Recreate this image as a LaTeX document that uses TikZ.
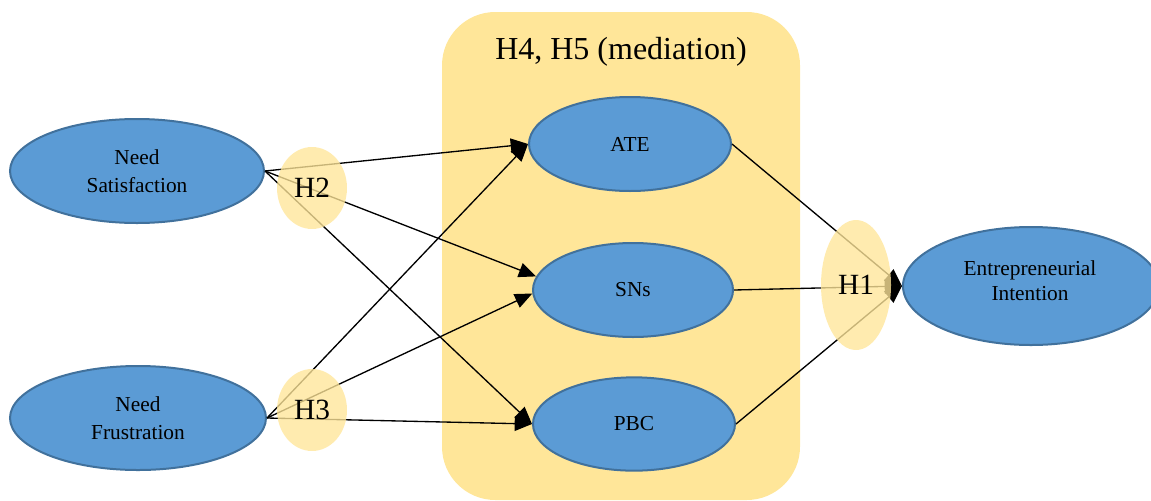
\documentclass[tikz,border=0pt]{standalone}
\usepackage{fontspec}
\setmainfont{Liberation Serif}
\usetikzlibrary{shapes.geometric,arrows.meta}
\definecolor{nodeblue}{HTML}{5B9BD5}
\definecolor{nodeborder}{HTML}{41719C}
\definecolor{paleyellow}{HTML}{FFE699}
\tikzset{
  construct/.style={ellipse, fill=nodeblue, draw=nodeborder, line width=1.5pt,
    inner sep=0pt, align=center, font=\fontsize{16}{21}\selectfont},
  hyp/.style={ellipse, fill=paleyellow, fill opacity=0.78, text opacity=1,
    inner sep=0pt, font=\fontsize{22}{26}\selectfont},
  link/.style={line width=1pt, -{Triangle[length=13pt,width=11pt]}},
}
\begin{document}
\begin{tikzpicture}[x=0.75pt,y=-0.75pt]
\useasboundingbox (0,0) rectangle (1151,500);
% mediation box
\fill[paleyellow, rounded corners=40pt] (442,12) rectangle (800,500);
\node[font=\fontsize{24}{28}\selectfont] (title) at (621,52) {H4, H5 (mediation)};
% constructs
\node[construct, minimum width=190.5pt, minimum height=78pt] (ns) at (137,171) {Need\\Satisfaction};
\node[construct, minimum width=192pt, minimum height=78pt] (nf) at (138,418) {Need\\Frustration};
\node[construct, minimum width=151.5pt, minimum height=70.5pt] (ate) at (630,144) {ATE};
\node[construct, minimum width=150pt, minimum height=70.5pt] (sns) at (633,290) {SNs};
\node[construct, minimum width=151.5pt, minimum height=70pt] (pbc) at (634,424) {PBC};
\node[construct, minimum width=192pt, minimum height=88.5pt] (ei) at (1031,286) {};
\node[align=center, inner sep=0pt, font=\fontsize{16}{19}\selectfont] (eitext) at (1030,281) {Entrepreneurial\\Intention};
% connectors
\draw[link] (ns.east) -- (ate.west);
\draw[link] (ns.east) -- (sns.172);
\draw[link] (ns.east) -- (pbc.west);
\draw[link] (nf.east) -- (ate.west);
\draw[link] (nf.east) -- (sns.182);
\draw[link] (nf.east) -- (pbc.west);
\draw[link] (ate.east) -- (ei.west);
\draw[link] (sns.east) -- (ei.west);
\draw[link] (pbc.east) -- (ei.west);
% hypothesis labels
\node[hyp, minimum width=52.5pt, minimum height=61.5pt] (h2) at (312,188) {H2};
\node[hyp, minimum width=52.5pt, minimum height=61.5pt] (h3) at (312,410) {H3};
\node[hyp, minimum width=52.5pt, minimum height=97.5pt] (h1) at (856,285) {H1};
\end{tikzpicture}
\end{document}
